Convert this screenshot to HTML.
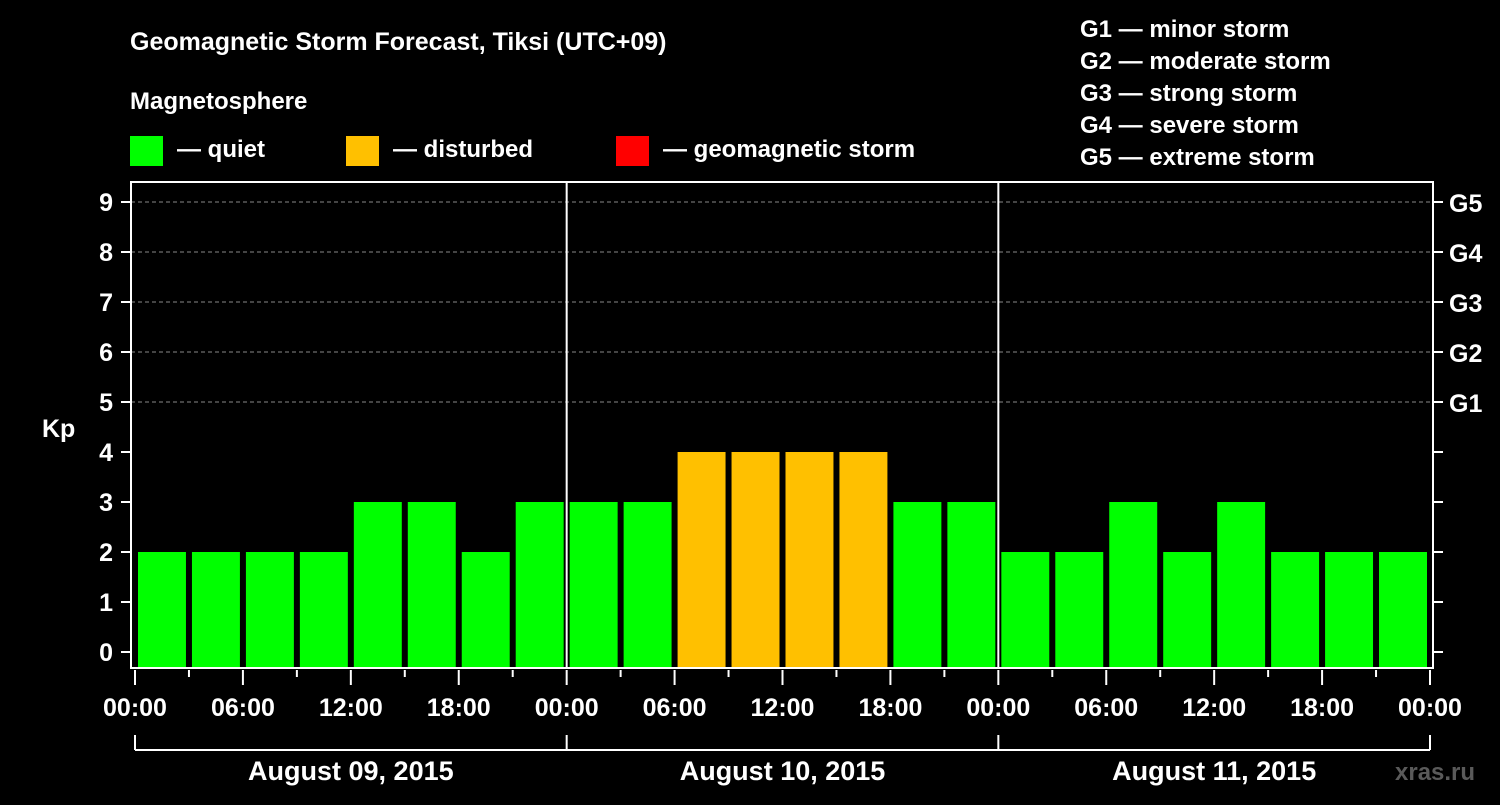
<!DOCTYPE html>
<html><head><meta charset="utf-8"><style>
body{margin:0;background:#000;width:1500px;height:800px;overflow:hidden}
svg text{font-family:"Liberation Sans",sans-serif;font-weight:bold;fill:#fff}
</style></head><body>
<svg id="c" width="1500" height="800">
<text x="130" y="50" font-size="25">Geomagnetic Storm Forecast, Tiksi (UTC+09)</text>
<text x="130" y="109" font-size="24">Magnetosphere</text>
<g><rect x="130" y="136" width="33" height="30" fill="#00ff00"/><text x="177" y="157" font-size="24">— quiet</text></g>
<g><rect x="346" y="136" width="33" height="30" fill="#ffc000"/><text x="393" y="157" font-size="24">— disturbed</text></g>
<g><rect x="616" y="136" width="33" height="30" fill="#ff0000"/><text x="663" y="157" font-size="24">— geomagnetic storm</text></g>
<g font-size="24">
<text x="1080" y="37">G1 — minor storm</text><text x="1080" y="69">G2 — moderate storm</text><text x="1080" y="101">G3 — strong storm</text><text x="1080" y="133">G4 — severe storm</text><text x="1080" y="165">G5 — extreme storm</text></g>
<text x="42" y="437" font-size="25">Kp</text>
<g id="grid"></g><g id="bars"></g><g id="axes"></g>
<text x="1395" y="780" font-size="24" fill="#555" style="fill:#5a5a5a">xras.ru</text>
</svg>
<script>
const days=["August 09, 2015","August 10, 2015","August 11, 2015"];
const kp=[2,2,2,2,3,3,2,3, 3,3,4,4,4,4,3,3, 2,2,3,2,3,2,2,2];
const yTicks=[0,1,2,3,4,5,6,7,8,9];
const gLabels=["G1","G2","G3","G4","G5"];
const xLabels=["00:00","06:00","12:00","18:00"];
const NS="http://www.w3.org/2000/svg";
const L=131,R=1433,T=182,B=668,X0=135,X1=1430;
const y=v=>652-50*v;
const slot=(X1-X0)/kp.length;
const x=i=>X0+slot*i;
function mk(p,t,a){const e=document.createElementNS(NS,t);for(const k in a)e.setAttribute(k,a[k]);document.getElementById(p).appendChild(e);return e;}
function col(v){return v>=5?"#ff0000":v>=4?"#ffc000":"#00ff00";}
kp.forEach((v,i)=>{const r=mk("bars","rect",{x:x(i)+3,y:y(v),width:slot-6,height:B-y(v),fill:col(v)});

});
yTicks.forEach(v=>{
 if(v>=5){const g=mk("grid","line",{x1:L,x2:R,y1:y(v),y2:y(v),stroke:"#888","stroke-dasharray":"4,3","stroke-width":1});
 
 }
 mk("axes","line",{x1:121,x2:L,y1:y(v),y2:y(v),stroke:"#fff","stroke-width":2});
 mk("axes","line",{x1:R,x2:R+10,y1:y(v),y2:y(v),stroke:"#fff","stroke-width":2});
 const t=mk("axes","text",{x:113,y:y(v)+9,"font-size":25,"text-anchor":"end"});t.textContent=v;
 
 
 if(v>=5){const g=mk("axes","text",{x:1449,y:y(v)+10,"font-size":25});g.textContent=gLabels[v-5];
 
 }
});
mk("axes","rect",{x:L,y:T,width:R-L,height:B-T,fill:"none",stroke:"#fff","stroke-width":2});
const dw=(X1-X0)/days.length;
for(let d=0;d<=days.length;d++){
 const xd=X0+dw*d;
 if(d>0&&d<days.length)mk("axes","line",{x1:xd,x2:xd,y1:T,y2:B,stroke:"#fff","stroke-width":2});
 mk("axes","line",{x1:xd,x2:xd,y1:735,y2:750,stroke:"#fff","stroke-width":2});
}
mk("axes","line",{x1:X0,x2:X1,y1:750,y2:750,stroke:"#fff","stroke-width":2});
for(let i=0;i<=kp.length;i++){
 const xi=x(i);const major=i%2==0;
 mk("axes","line",{x1:xi,x2:xi,y1:670,y2:major?685:677,stroke:"#fff","stroke-width":2});
 if(major){const t=mk("axes","text",{x:xi,y:716,"font-size":25,"text-anchor":"middle"});t.textContent=xLabels[(i/2)%4];
 
 }
}
days.forEach((d,i)=>{const t=mk("axes","text",{x:X0+dw*(i+0.5),y:780,"font-size":27,"text-anchor":"middle"});t.textContent=d;

});
</script>
</body></html>
